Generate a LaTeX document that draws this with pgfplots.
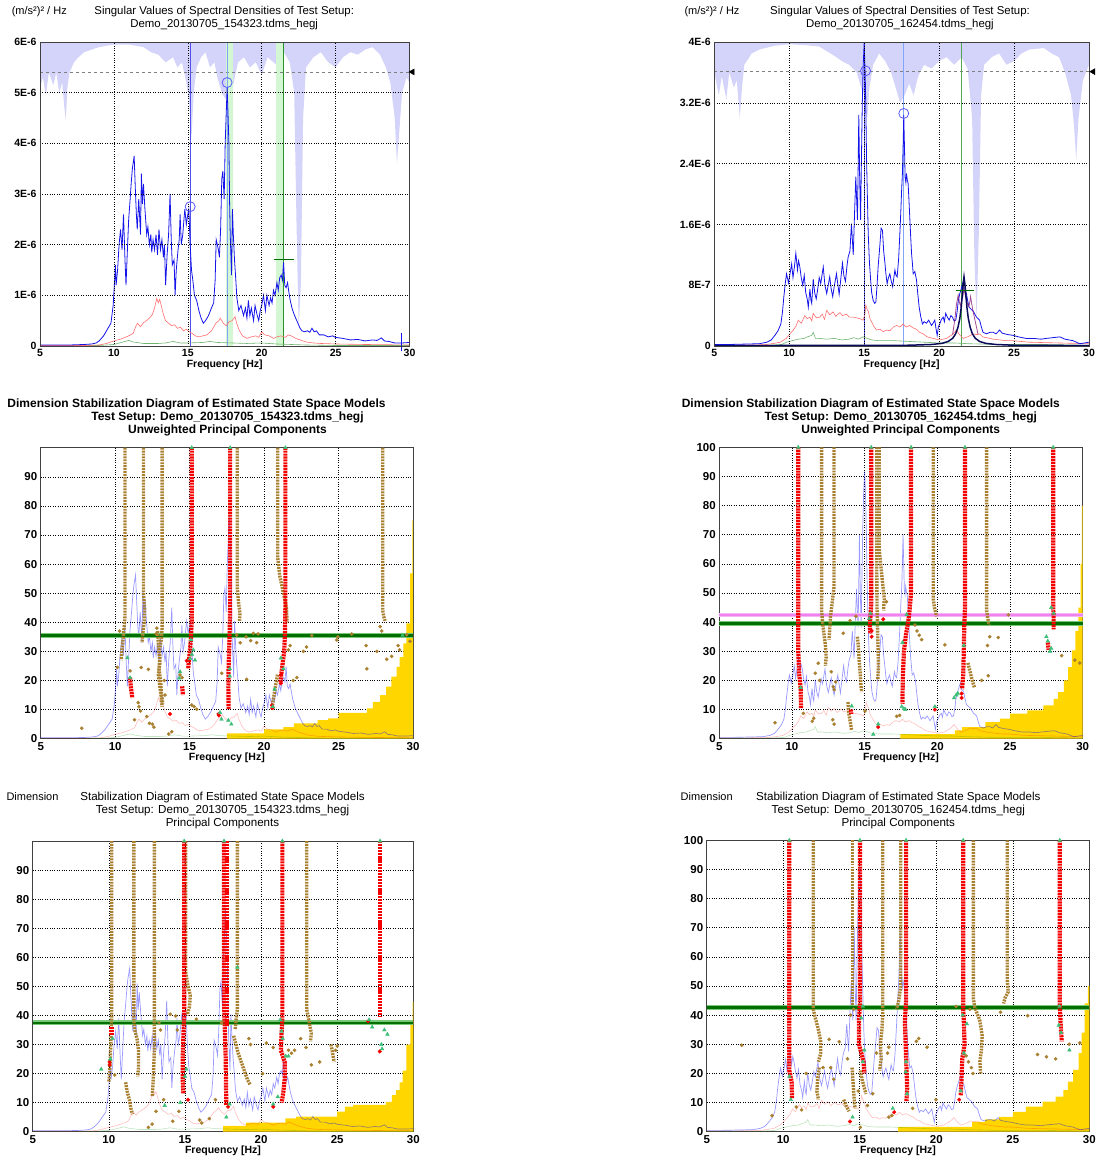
\documentclass[border=0pt]{standalone}
\usepackage{fontspec}
\setmainfont{Liberation Sans}
\usepackage{pgfplots}
\usepackage{pgfplotstable}
\pgfplotsset{compat=1.18}

\definecolor{lav}{RGB}{212,212,250}
\definecolor{specblue}{RGB}{20,20,235}
\definecolor{specred}{RGB}{255,110,110}
\definecolor{specgreen}{RGB}{110,180,110}
\definecolor{vblue}{RGB}{80,80,235}
\definecolor{vlblue}{RGB}{130,165,250}
\definecolor{cblue}{RGB}{90,90,250}
\definecolor{vgreen}{RGB}{40,145,40}
\definecolor{lgreen}{RGB}{210,247,210}
\definecolor{brn}{RGB}{168,128,48}
\definecolor{sred}{RGB}{245,0,0}
\definecolor{tri}{RGB}{60,190,120}
\definecolor{gold}{RGB}{255,214,0}
\definecolor{dgreen}{RGB}{0,110,0}
\definecolor{mgreen}{RGB}{120,200,120}
\definecolor{violet}{RGB}{238,130,238}
\definecolor{navy}{RGB}{10,10,90}
\definecolor{purp}{RGB}{140,30,120}

% ---------- spectra of the two test setups ----------
\pgfplotstableread{
x y
5 0.02
6 0.02
7 0.02
8 0.03
8.5 0.04
8.8 0.06
9.0 0.1
9.3 0.2
9.5 0.3
9.8 0.45
9.95 0.8
10.05 1.3
10.1 1.6
10.15 1.2
10.25 1.5
10.35 2.0
10.45 2.3
10.55 1.9
10.65 2.6
10.75 1.7
10.82 1.2
10.9 1.8
11.0 2.5
11.1 2.9
11.18 3.25
11.25 3.5
11.37 3.75
11.45 3.1
11.52 2.6
11.58 2.3
11.68 2.9
11.75 2.5
11.8 2.2
11.86 3.4
11.93 2.8
12.0 3.2
12.1 2.7
12.22 2.2
12.3 2.35
12.4 2.0
12.5 2.2
12.56 1.85
12.65 2.1
12.75 1.9
12.85 2.2
12.95 1.8
13.05 2.3
13.15 1.9
13.25 2.1
13.35 1.75
13.42 2.0
13.5 1.2
13.6 1.8
13.7 2.2
13.8 3.0
13.88 2.1
13.95 1.6
14.07 1.7
14.14 1.0
14.22 1.5
14.34 1.9
14.42 2.1
14.48 2.6
14.56 2.0
14.66 2.2
14.74 2.5
14.8 2.7
14.9 2.4
15.0 2.6
15.07 2.7
15.16 2.0
15.25 1.5
15.34 1.3
15.45 1.0
15.6 0.9
15.75 0.7
15.9 0.55
16.05 0.45
16.2 0.5
16.4 0.6
16.6 0.75
16.75 0.85
16.85 1.3
16.92 2.1
17.0 2.0
17.07 1.9
17.14 1.75
17.22 2.3
17.3 3.3
17.37 3.45
17.46 2.9
17.53 4.0
17.6 4.6
17.66 5.1
17.72 4.6
17.78 4.0
17.83 2.8
17.87 2.2
17.96 1.4
18.02 2.7
18.08 2.2
18.16 1.7
18.25 1.3
18.32 0.95
18.45 0.7
18.6 0.8
18.77 0.6
18.9 0.75
19.0 0.55
19.1 0.9
19.2 0.6
19.3 0.75
19.45 0.5
19.55 0.8
19.7 0.6
19.8 0.5
19.9 0.7
20.0 0.8
20.12 1.0
20.25 0.7
20.35 1.0
20.5 0.8
20.6 0.95
20.7 0.85
20.8 1.1
20.9 1.0
21.03 1.25
21.12 1.1
21.22 1.35
21.32 1.4
21.4 1.3
21.48 1.65
21.56 1.2
21.65 1.15
21.75 1.25
21.82 1.1
21.93 0.9
22.05 0.75
22.16 0.65
22.3 0.55
22.45 0.45
22.6 0.35
22.72 0.3
22.9 0.28
23.1 0.3
23.25 0.27
23.4 0.35
23.55 0.28
23.7 0.3
23.9 0.22
24.2 0.22
24.5 0.18
24.8 0.2
25.0 0.17
25.5 0.15
26.0 0.12
26.5 0.13
27.0 0.1
27.5 0.12
27.8 0.11
28.1 0.16
28.3 0.1
28.6 0.09
29.0 0.06
29.5 0.06
30.0 0.07
}\tlb

\pgfplotstableread{
x y
5 0.01
8 0.01
9 0.02
9.5 0.05
10 0.1
10.5 0.14
11 0.2
11.3 0.25
11.5 0.4
11.6 0.45
11.8 0.38
12.0 0.46
12.2 0.5
12.4 0.55
12.6 0.62
12.75 0.75
12.9 0.94
13.0 0.85
13.1 0.92
13.2 0.8
13.35 0.62
13.5 0.5
13.7 0.45
13.9 0.4
14.1 0.42
14.3 0.35
14.5 0.37
14.7 0.3
14.9 0.33
15.1 0.28
15.3 0.25
15.5 0.2
15.8 0.18
16.0 0.2
16.3 0.22
16.6 0.3
16.9 0.45
17.1 0.5
17.2 0.55
17.4 0.45
17.6 0.4
17.8 0.48
18.0 0.5
18.2 0.58
18.3 0.45
18.5 0.3
18.7 0.2
19.0 0.15
19.3 0.18
19.6 0.2
19.8 0.17
20.0 0.28
20.2 0.22
20.5 0.2
20.8 0.15
21.0 0.18
21.3 0.2
21.6 0.17
21.8 0.22
22.0 0.2
22.3 0.15
22.6 0.12
23.0 0.08
23.5 0.06
24.0 0.05
25.0 0.04
27.0 0.03
30.0 0.02
}\tlr

\pgfplotstableread{
x y
5 0.005
9 0.01
10 0.03
10.5 0.07
11 0.11
11.3 0.08
12 0.05
13 0.05
13.5 0.06
14 0.09
14.5 0.06
15 0.06
16 0.07
16.5 0.09
17 0.07
18 0.06
19 0.05
20 0.06
21 0.04
22 0.03
23 0.02
25 0.01
30 0.01
}\tlg

\pgfplotstableread{
x y
5 6
5 5.1
5.2 5.3
5.4 4.95
5.6 5.4
5.9 5.15
6.1 5.4
6.3 5.0
6.5 5.2
6.65 4.7
6.75 4.45
6.85 5.1
7.0 5.4
7.3 5.6
7.6 5.7
8.0 5.8
8.5 5.85
9.0 5.9
10 5.95
11 5.95
12 5.9
12.5 5.8
13 5.75
13.5 5.6
14 5.7
14.3 5.5
14.6 5.6
14.9 5.2
15.1 4.8
15.25 4.1
15.4 5.0
15.6 5.5
15.9 5.7
16.2 5.8
16.5 5.5
16.8 5.6
17.0 5.3
17.3 5.0
17.6 4.85
17.9 4.9
18.1 5.2
18.4 5.6
18.8 5.7
19.2 5.5
19.6 5.6
20.0 5.35
20.4 5.7
20.8 5.6
21.2 5.5
21.5 5.8
21.9 5.6
22.2 5.0
22.35 2.5
22.5 0.35
22.65 1.2
22.8 4.5
23.0 5.5
23.5 5.7
24.0 5.8
24.5 5.6
25.0 5.5
25.5 5.7
26.0 5.8
26.5 5.75
27.0 5.85
27.5 5.9
28.0 5.75
28.4 5.5
28.7 5.2
29.0 4.5
29.15 3.6
29.3 4.2
29.5 5.0
29.8 5.3
30.0 5.2
30 6
}\tll

\pgfplotstableread{
x y
5 0.2
6 0.2
7 0.25
8 0.3
8.5 0.5
8.8 0.8
9.04 1.4
9.25 2.0
9.44 2.9
9.55 4.5
9.64 6.5
9.75 8.5
9.82 9.5
9.95 8.3
10.05 9.5
10.16 10.8
10.25 9.0
10.35 10.5
10.44 12.2
10.55 10.0
10.62 11.2
10.7 10.5
10.8 9.0
10.9 8.0
11.0 9.3
11.1 7.0
11.2 6.2
11.27 5.1
11.38 7.5
11.45 6.0
11.5 5.6
11.6 8.8
11.7 7.0
11.8 6.2
11.9 7.5
12.0 9.0
12.1 8.2
12.2 9.5
12.27 10.4
12.38 8.0
12.5 6.9
12.6 8.0
12.7 9.1
12.8 7.5
12.9 6.5
13.0 7.8
13.15 9.5
13.25 8.0
13.33 6.8
13.45 9.0
13.55 10.9
13.65 9.2
13.75 8.5
13.85 10.5
13.93 11.7
14.05 12.5
14.15 16.1
14.27 12.0
14.35 17.0
14.44 22.3
14.55 16.6
14.6 24
14.64 30.4
14.7 22
14.76 16.6
14.82 25
14.87 31.5
14.93 36.8
15.0 39.9
15.07 35.5
15.12 30
15.16 24.5
15.22 19
15.27 14.8
15.35 11
15.43 8.7
15.5 7.0
15.6 6.0
15.7 5.6
15.78 5.8
15.86 8.0
15.93 10.4
16.04 13.1
16.13 15.5
16.22 15.2
16.3 12.5
16.38 11.0
16.45 9.5
16.53 8.2
16.62 9.0
16.71 9.5
16.8 8.6
16.9 7.8
16.98 9.0
17.05 10.0
17.12 9.3
17.2 9.1
17.3 11.5
17.38 14.8
17.44 17.5
17.49 20.1
17.55 22.7
17.6 26.5
17.64 30.4
17.69 26
17.73 22.2
17.78 21.5
17.82 22.7
17.88 21.8
17.93 21.4
17.98 19.5
18.04 17.0
18.1 14.5
18.16 12.2
18.22 10.8
18.27 9.5
18.38 9.8
18.49 8.7
18.58 6.8
18.67 5.1
18.78 3.8
18.89 2.9
19.0 3.2
19.16 3.0
19.3 3.4
19.49 2.7
19.6 3.0
19.71 3.4
19.8 2.2
19.87 1.4
19.95 2.5
20.04 2.9
20.15 3.5
20.27 3.8
20.35 3.2
20.44 4.3
20.55 3.8
20.67 3.4
20.78 4.0
20.89 3.8
21.0 3.3
21.11 3.4
21.2 4.5
21.27 5.8
21.38 6.9
21.47 7.5
21.56 8.2
21.62 8.5
21.67 7.3
21.75 7.2
21.82 6.9
21.9 6.0
22.0 5.1
22.15 4.8
22.27 4.6
22.38 4.2
22.49 3.8
22.6 3.6
22.7 3.4
22.82 2.5
22.93 1.8
23.05 1.7
23.16 1.6
23.4 1.8
23.6 1.8
23.8 1.6
24.04 2.1
24.2 1.7
24.38 1.6
24.6 1.5
24.93 1.4
25.3 1.2
25.8 1.0
26.3 1.0
26.8 0.9
27.16 1.0
27.6 1.1
28.05 1.2
28.4 0.9
28.93 0.7
29.38 0.3
29.7 0.4
30 0.5
}\trb

\pgfplotstableread{
x y
5 0.1
8 0.15
8.5 0.2
9 0.35
9.4 0.5
9.8 1.0
10.0 1.5
10.27 2.1
10.45 2.6
10.6 3.4
10.8 3.0
11.04 4.0
11.2 3.6
11.38 3.8
11.5 3.3
11.6 4.3
11.8 3.7
12.04 3.8
12.2 4.2
12.35 3.5
12.5 4.7
12.7 4.1
12.93 4.5
13.1 3.9
13.38 4.4
13.55 4.0
13.82 4.2
14.0 3.8
14.27 3.8
14.5 3.7
14.71 3.6
14.93 3.4
15.05 4.2
15.11 5.4
15.2 4.8
15.27 4.6
15.4 3.5
15.49 3.2
15.65 2.6
15.82 2.1
16.05 2.2
16.27 1.9
16.5 2.1
16.71 2.0
16.95 2.5
17.16 2.7
17.4 2.5
17.6 2.9
17.8 2.5
18.04 2.7
18.25 2.4
18.49 2.2
18.7 1.8
18.93 1.6
19.2 1.2
19.6 1.0
20.04 0.8
20.49 1.0
20.8 1.4
20.93 1.6
21.16 2.1
21.35 1.5
21.6 1.0
21.9 1.2
22.27 1.6
22.5 1.5
22.7 1.6
22.9 1.2
23.16 1.1
23.6 0.9
24.04 0.8
24.5 0.7
24.93 0.7
26 0.5
28 0.4
30 0.3
}\trr

\pgfplotstableread{
x y
5 0.05
8.5 0.1
9.5 0.2
9.8 0.5
10.2 0.7
10.6 0.9
11.0 1.0
11.2 1.2
11.5 1.4
11.6 1.8
11.75 1.0
12.0 1.0
12.5 0.9
13.0 1.0
13.5 0.8
14.0 0.9
14.3 1.1
14.6 0.9
14.93 1.2
15.2 1.0
15.5 0.8
16.0 0.7
17.0 0.7
18.0 0.6
19.0 0.5
20.0 0.4
21.0 0.4
22.0 0.3
24.0 0.2
27.0 0.2
30.0 0.1
}\trg

\pgfplotstableread{
x y
5 40
5 36
5.3 33
5.5 35.5
5.8 32.5
6.0 36
6.3 34
6.5 35
6.7 30
6.85 34
7.0 37
7.5 38.5
8 39
9 39.5
10 39.7
11 39.6
12 39.4
12.5 38.8
13 38.2
13.5 37.5
14 37
14.5 36
14.8 34
15.0 33
15.2 30
15.35 34
15.6 37
16 38.5
16.4 37.5
16.8 36
17.1 34
17.4 32
17.7 33
18 34.5
18.3 33
18.6 35.5
19 37
19.5 36.5
20 37.5
20.5 38
21 37
21.5 38
21.9 36.5
22.2 30
22.35 12
22.5 3.5
22.65 15
22.8 33
23 37
23.5 38
24 38.5
24.5 37
25 37.5
25.5 38.5
26 39
27 39.2
27.5 38.5
28 38
28.4 36
28.8 33
29.0 29
29.15 24.5
29.3 30
29.6 35
30 37
30 40
}\trl

\pgfplotstableread{
x y
5 0.05
18 0.1
19.5 0.2
20.2 0.35
20.6 0.6
20.9 1.0
21.1 1.6
21.25 2.4
21.38 3.6
21.47 5.0
21.55 6.8
21.61 8.3
21.66 9.1
21.71 8.3
21.78 6.8
21.86 5.0
21.95 3.6
22.08 2.4
22.22 1.6
22.42 1.0
22.7 0.6
23.1 0.35
23.8 0.2
25 0.1
30 0.05
}\trn

\pgfplotstableread{
x y
20.9 1.5
21.04 3.4
21.16 5.5
21.27 6.7
21.35 5.8
21.42 5.3
21.5 6.0
21.58 6.5
21.66 7.5
21.74 6.8
21.82 6.0
21.9 5.5
21.98 5.2
22.05 5.8
22.1 6.5
22.18 5.5
22.27 4.5
22.38 3.5
22.49 2.5
22.6 1.5
}\trp

\pgfplotsset{
  panel/.style={scale only axis, clip=false, xmin=5, xmax=30,
    xtick={5,10,15,20,25,30},
    grid=major, major grid style={black, dotted, line width=0.55pt},
    axis line style={black!75, line width=0.8pt}, tick style={draw=none},
    /pgf/number format/assume math mode=true,
    xlabel={Frequency [Hz]},
    xlabel style={font=\fontsize{10.5}{12}\selectfont\bfseries, yshift=4pt}},
  top/.style={panel, axis on top,
    ticklabel style={font=\fontsize{10.5}{12}\selectfont\bfseries}},
  stab/.style={panel, ymin=0, ymax=100,
    ticklabel style={font=\fontsize{11.5}{13}\selectfont\bfseries}},
  bcol/.style={draw=brn, line width=3.4pt, dash pattern=on 1.9pt off 1.01pt},
  rcol/.style={draw=sred, line width=4.2pt, dash pattern=on 2.1pt off 0.81pt},
  bdots/.style={only marks, mark=*, mark size=1.6pt, mark options={draw=brn, fill=brn}},
  rdots/.style={only marks, mark=*, mark size=1.8pt, mark options={draw=sred, fill=sred}},
  gtri/.style={only marks, mark=triangle*, mark size=2.1pt, mark options={draw=tri, fill=tri}},
  lblue/.style={blue, opacity=0.4, line width=0.7pt},
  lred/.style={red, opacity=0.25, line width=0.6pt},
  lgrn/.style={green!60!black, opacity=0.25, line width=0.6pt},
}

\newcommand{\ft}{\fontsize{11.4}{13}\selectfont}
\newcommand{\fs}{\fontsize{11.6}{13}\selectfont}
\newcommand{\fb}{\fontsize{12}{13}\selectfont\bfseries}

\begin{document}
\begin{tikzpicture}
\path[use as bounding box] (0,0) rectangle (1097pt,-1157pt);

% ---------------- top left ----------------
\begin{axis}[top, at={(40pt,-346pt)}, anchor=south west, width=369.5pt, height=304pt,
  ymin=0, ymax=6, ytick={0,1,2,3,4,5,6}, yticklabels={0,1E-6,2E-6,3E-6,4E-6,5E-6,6E-6}]
\addplot[fill=lav, draw=none] table {\tll} -- cycle;
\addplot[fill=lgreen, draw=none] coordinates {(17.6,0)(18.05,0)(18.05,6)(17.6,6)} -- cycle;
\addplot[fill=lgreen, draw=none] coordinates {(20.98,0)(21.48,0)(21.48,6)(20.98,6)} -- cycle;
\addplot[gray, dashed, line width=0.8pt] coordinates {(5,5.41)(30,5.41)};
\addplot[vblue, line width=0.8pt] coordinates {(15.16,0)(15.16,6)};
\addplot[vlblue, line width=0.8pt] coordinates {(17.66,0)(17.66,6)};
\addplot[vgreen, line width=0.8pt] coordinates {(21.5,0)(21.5,6)};
\addplot[specgreen, line width=0.6pt] table {\tlg};
\addplot[specred, line width=0.6pt] table {\tlr};
\addplot[specblue, line width=0.8pt] table {\tlb};
\addplot[specblue, line width=0.8pt] coordinates {(29.45,-0.1)(29.45,0.25)};
\addplot[only marks, mark=o, mark size=5pt, mark options={draw=cblue, line width=0.8pt}] coordinates {(15.16,2.75)(17.66,5.2)};
\addplot[dgreen, line width=1.5pt] coordinates {(20.8,1.71)(22.2,1.71)};
\addplot[only marks, mark=triangle*, mark size=3.5pt, mark options={rotate=90, fill=black, draw=black}] coordinates {(30.2,5.41)};
\end{axis}

% ---------------- top right ----------------
\begin{axis}[top, at={(714.3pt,-346pt)}, anchor=south west, width=374.7pt, height=304pt,
  ymin=0, ymax=40, ytick={0,8,16,24,32,40}, yticklabels={0,8E-7,1.6E-6,2.4E-6,3.2E-6,4E-6}]
\addplot[fill=lav, draw=none] table {\trl} -- cycle;
\addplot[gray, dashed, line width=0.8pt] coordinates {(5,36.1)(30,36.1)};
\addplot[vblue, line width=0.8pt] coordinates {(15.0,0)(15.0,40)};
\addplot[vlblue, line width=0.8pt] coordinates {(17.64,0)(17.64,40)};
\addplot[vgreen!80, line width=0.8pt] coordinates {(21.49,0)(21.49,40)};
\addplot[specgreen, line width=0.6pt] table {\trg};
\addplot[specred, line width=0.6pt] table {\trr};
\addplot[specblue, line width=0.8pt] table {\trb};
\addplot[purp, opacity=0.8, line width=0.8pt] table {\trp};
\addplot[navy, line width=1.5pt] table {\trn};
\addplot[only marks, mark=o, mark size=5pt, mark options={draw=cblue, line width=0.8pt}] coordinates {(15.09,36.2)(17.64,30.6)};
\addplot[dgreen, line width=1.5pt] coordinates {(21.11,7.3)(22.31,7.3)};
\addplot[only marks, mark=triangle*, mark size=3.5pt, mark options={rotate=90, fill=black, draw=black}] coordinates {(30.28,36.1)};
\end{axis}

% ---------------- middle left ----------------
\begin{axis}[stab, at={(40.7pt,-738.7pt)}, anchor=south west, width=372.3pt, height=291pt,
  ytick={0,10,...,90}]
\addplot[const plot, fill=gold, draw=none] coordinates {(17.5,1.8)(20.0,3.2)(21.3,4)(22.0,5.3)(23.6,6.4)(24.3,7)(25.0,8.9)(26.9,10.4)(27.3,12.7)(27.8,15)(28.2,17.9)(28.55,21.3)(28.9,24.7)(29.1,28)(29.35,32.8)(29.55,39.6)(29.8,56.8)(29.95,75)(30,75)} \closedcycle;
\addplot[lgrn] table[y expr=15*\thisrow{y}] {\tlg};
\addplot[lred] table[y expr=15*\thisrow{y}] {\tlr};
\addplot[lblue] table[y expr=15*\thisrow{y}] {\tlb};
\addplot[mgreen, line width=4.5pt] coordinates {(5,35.5)(30,35.5)};
\addplot[dgreen, line width=2.4pt] coordinates {(5,35.5)(30,35.5)};
\addplot[bcol] coordinates {(10.66,100)(10.66,42)(10.6,38)(10.52,34)(10.45,30)(10.4,27)};
\addplot[bcol] coordinates {(11.9,100)(11.9,50)(11.98,45)(11.95,40)(11.85,36)(11.8,33)};
\addplot[bcol] coordinates {(13.15,100)(13.15,38)(13.1,34)(12.95,30)(13.0,26)(12.9,22)(13.0,18)(13.1,14)(13.15,11)};
\addplot[bcol] coordinates {(12.85,37)(12.9,32)(13.0,28)(12.95,24)(13.05,20)(13.1,16)(13.2,12)};
\addplot[bcol] coordinates {(18.2,100)(18.2,52)(18.28,47)(18.38,43)(18.35,40.5)};
\addplot[bcol] coordinates {(20.92,100)(20.92,62)(21.05,56)(21.3,50)(21.5,45)(21.55,40)};
\addplot[bcol] coordinates {(27.97,100)(27.97,44)(28.03,42)(28.12,40.5)};
\addplot[bcol] coordinates {(20.9,22)(20.8,19)(20.7,16)(20.6,13)(20.55,10.5)};
\addplot[rcol] coordinates {(15.14,100)(15.14,40)(15.08,34)(14.98,28)(14.9,24)};
\addplot[rcol] coordinates {(17.72,100)(17.72,45)(17.68,35)(17.62,25)(17.6,18)(17.62,10)};
\addplot[rcol] coordinates {(21.43,100)(21.43,45)(21.4,36)(21.35,30)(21.25,26)(21.15,22)(21.1,19)};
\addplot[rcol] coordinates {(11.0,21)(11.05,18)(11.1,16)(11.15,14)};
\addplot[rcol] coordinates {(14.5,18)(14.55,15)};
\addplot[bdots] coordinates {(7.75,3.6)(10.15,24.5)(10.3,37)(11.0,23.3)(11.55,12.4)(11.6,11)(11.7,9.5)(11.75,24.5)(12.12,7.6)(12.23,23.8)(12.3,5.3)(12.5,5)(12.6,4)(13.6,1.6)(13.8,2.4)(14.36,21.9)(14.5,21)(15.14,11.6)(15.3,11)(15.48,10.1)(17.16,22.5)(18.16,35.6)(18.4,33)(18.79,35)(19.1,33.7)(19.28,36.2)(19.5,33)(19.6,36)(18.83,20.4)(20.62,10.7)(21.63,30.5)(21.75,32)(21.96,20)(22.2,21)(22.64,30)(22.85,31.5)(23.2,35.5)(24.88,33.9)(24.95,35)(25.89,36)(26.85,32)(26.9,24)(27.57,30)(27.79,38.5)(27.9,37)(28.24,27.3)(28.57,28.3)(29.0,32)(29.1,30.5)(29.58,35.7)(29.8,33.5)(12.8,38)(12.75,36)(13.3,20)(13.35,15)(11.3,6.5)};
\addplot[rdots] coordinates {(13.68,8.5)(14.8,26.8)(16.93,8.5)(16.97,8)(20.53,11.5)(20.55,10.5)(21.13,22)(21.13,19)};
\addplot[gtri] coordinates {(10.82,27.8)(11.0,21)(14.36,23)(14.3,20.8)(15.03,27.5)(15.15,29)(15.25,30.5)(15.36,27)(15.1,34)(17.04,9)(17.14,6.7)(17.6,6.3)(17.8,5)(17.7,24)(17.7,21.5)(20.58,11)(20.7,17)(21.13,27.7)(21.3,24)(29.3,35.5)(15.14,100)(17.72,100)(21.43,100)};
\end{axis}

% ---------------- middle right ----------------
\begin{axis}[stab, at={(719.3pt,-738.7pt)}, anchor=south west, width=363.4pt, height=291.4pt,
  ytick={0,10,...,100}]
\addplot[const plot, fill=gold, draw=none] coordinates {(17.45,1.6)(21.2,2.9)(21.7,4)(23.3,5.7)(24.3,6.9)(25.0,8.6)(26.2,9.7)(27.3,11.4)(28.0,13.7)(28.3,16)(28.7,20)(29.0,24.6)(29.25,30.3)(29.5,37)(29.7,45)(29.85,60)(29.95,80)(30,80)} \closedcycle;
\addplot[lgrn] table[y expr=2.3*\thisrow{y}] {\trg};
\addplot[lred] table[y expr=2.3*\thisrow{y}] {\trr};
\addplot[lblue] table[y expr=2.3*\thisrow{y}] {\trb};
\addplot[violet!60, line width=4.5pt] coordinates {(5,42.4)(30,42.4)};
\addplot[violet, line width=2.2pt] coordinates {(5,42.4)(30,42.4)};
\addplot[mgreen, line width=4.5pt] coordinates {(5,39.6)(30,39.6)};
\addplot[dgreen, line width=2.4pt] coordinates {(5,39.6)(30,39.6)};
\addplot[bcol] coordinates {(12.04,100)(12.04,44)(12.1,40)(12.2,36)(12.3,32)(12.35,28)(12.3,25)};
\addplot[bcol] coordinates {(12.89,100)(12.89,52)(12.75,46)(12.65,42)(12.6,38)(12.55,34)};
\addplot[bcol] coordinates {(15.83,100)(15.83,60)(15.85,45)(15.9,35)(15.95,25)(15.9,20)};
\addplot[bcol] coordinates {(16.0,100)(16.0,65)(16.2,55)(16.35,48)(16.3,44)};
\addplot[bcol] coordinates {(19.72,100)(19.72,48)(19.8,45)(19.95,42)};
\addplot[bcol] coordinates {(23.39,100)(23.39,44)(23.45,42)(23.55,39)};
\addplot[bcol] coordinates {(14.5,35)(14.56,32)(14.62,27)(14.7,22)(14.75,18)(14.8,16)};
\addplot[bcol] coordinates {(13.85,12.6)(13.9,9)(14.0,6)(14.1,3)};
\addplot[bcol] coordinates {(22.1,26)(22.25,23)(22.4,20)(22.55,17.6)};
\addplot[rcol] coordinates {(10.43,100)(10.43,30)(10.5,22)(10.6,17)(10.62,10.5)};
\addplot[rcol] coordinates {(15.45,100)(15.45,46)(15.4,42)(15.35,39)(15.4,36)};
\addplot[rcol] coordinates {(18.19,100)(18.19,50)(18.05,42)(17.85,36)(17.7,30)(17.62,20)(17.6,12)};
\addplot[rcol] coordinates {(21.9,100)(21.9,45)(21.85,38)(21.82,30)(21.78,22)(21.7,17)};
\addplot[rcol] coordinates {(27.97,100)(27.97,45)(28.0,42)(28.0,37.5)};
\addplot[rcol] coordinates {(27.6,33)(27.65,30.5)};
\addplot[rcol] coordinates {(14.05,10)(14.08,8.5)};
\addplot[bdots] coordinates {(8.83,5.5)(10.78,8.7)(11.81,25.9)(11.6,22.5)(11.9,20)(12.84,17.8)(12.9,16.8)(13.53,36.2)(15.02,9.5)(17.2,7.7)(17.4,8)(18.46,39)(18.6,37)(18.75,35.5)(18.92,34)(20.52,32.2)(23.05,20)(23.5,21.6)(23.45,32)(23.6,35)(24.19,34.7)(24.88,42.5)(28.55,28.5)(29.46,27)(29.8,26)(12.7,23)(13.0,19.5)(14.0,40.5)(14.4,42)(16.5,47)(11.4,6)(11.5,7)(12.9,5)(12.8,6.5)};
\addplot[rdots] coordinates {(15.48,37)(15.48,35)(15.93,4.0)(16.28,41)(19.83,10)(21.67,15.5)(21.67,14)};
\addplot[gtri] coordinates {(10.6,17.5)(14.11,11.2)(15.32,41.2)(15.4,43)(15.93,5)(15.59,1.5)(17.89,42.6)(17.6,33)(17.55,11)(17.7,10.3)(17.8,10)(19.83,11)(21.15,14)(21.3,15)(21.4,15.6)(21.82,32)(27.83,45)(28.0,43)(27.5,35)(27.6,33.5)(27.75,30)(27.83,31)(10.43,100)(15.45,100)(18.19,100)(21.9,100)(27.97,100)};
\end{axis}

% ---------------- bottom left ----------------
\begin{axis}[stab, at={(32.7pt,-1131.7pt)}, anchor=south west, width=380.6pt, height=290.7pt,
  ytick={0,10,...,90}]
\addplot[const plot, fill=gold, draw=none] coordinates {(17.5,2)(19.0,3.1)(21.6,4.6)(22.3,5.2)(25.0,6.9)(25.5,8.6)(26.05,9.2)(28.2,10.3)(28.6,12.6)(28.85,14.3)(29.1,17)(29.3,21)(29.55,30)(29.8,37)(29.95,44.7)(30,44.7)} \closedcycle;
\addplot[lgrn] table[y expr=15*\thisrow{y}] {\tlg};
\addplot[lred] table[y expr=15*\thisrow{y}] {\tlr};
\addplot[lblue] table[y expr=15*\thisrow{y}] {\tlb};
\addplot[mgreen, line width=4.5pt] coordinates {(5,37.5)(30,37.5)};
\addplot[dgreen, line width=2.4pt] coordinates {(5,37.5)(30,37.5)};
\addplot[bcol] coordinates {(10.19,100)(10.19,40)(10.15,33)(10.1,26)(10.05,20)(10.0,17)};
\addplot[bcol] coordinates {(11.65,100)(11.65,38)(11.7,35)(11.85,32)(11.95,28)(11.95,22)(11.9,19)};
\addplot[bcol] coordinates {(11.1,17)(11.2,14)(11.35,11)(11.45,8)(11.55,6)};
\addplot[bcol] coordinates {(12.99,100)(12.99,38)(13.0,30)(12.95,22)(12.9,16)(12.85,12)};
\addplot[bcol] coordinates {(15.05,100)(15.05,55)(15.2,50)(15.35,47)(15.3,43)(15.15,40)};
\addplot[bcol] coordinates {(18.44,100)(18.44,42)(18.35,38)(18.3,35)};
\addplot[bcol] coordinates {(18.2,33)(18.35,30)(18.5,27)(18.7,24)(18.9,21)(19.1,18)(19.3,16)};
\addplot[bcol] coordinates {(23.0,100)(23.0,42)(23.15,38)(23.3,34)(23.25,31)};
\addplot[bcol] coordinates {(24.6,30)(24.7,27)(24.8,24)};
\addplot[rcol] coordinates {(14.95,100)(14.95,40)(14.9,33)(14.85,25)(14.85,18)(14.9,13)};
\addplot[rcol] coordinates {(17.57,100)(17.57,45)(17.62,35)(17.68,25)(17.7,15)(17.72,9)};
\addplot[rcol] coordinates {(17.75,100)(17.75,36)};
\addplot[rcol] coordinates {(21.4,100)(21.4,39)(21.35,34)(21.3,28)(21.55,24)(21.55,18)(21.45,13)(21.35,10)};
\addplot[rcol] coordinates {(27.82,100)(27.82,39.5)};
\addplot[rcol] coordinates {(10.17,36)(10.17,33)};
\addplot[bdots] coordinates {(10.39,19.5)(12.84,2.6)(14.2,3.6)(14.04,40.4)(14.4,39.8)(14.5,35)(13.3,37.5)(13.4,35)(15.75,38.7)(15.97,4)(16.1,3)(17.4,37.5)(19.3,30)(19.2,32)(20.35,30.5)(20.1,20)(20.8,29)(21.8,28)(22.0,27)(22.6,32)(22.95,29)(22.2,28)(23.3,23)(23.85,24)(24.9,28)(25.0,29.5)(13.6,11)(14.6,7)(17.0,11)(16.6,4.5)(12.6,1.5)(13.1,7)};
\addplot[rdots] coordinates {(10.05,24)(10.05,23)(15.2,11)(17.83,8.6)(20.8,8.6)(27.8,27.6)(27.03,38)};
\addplot[gtri] coordinates {(9.5,21.5)(10.25,32)(10.1,25)(13.67,9)(14.7,10)(15.1,21.5)(15.0,19)(17.72,5)(17.93,9.5)(20.8,9.5)(21.1,12)(21.26,38.5)(21.35,34.5)(21.42,32)(21.62,26)(21.8,26)(27.1,38.5)(27.3,36)(28.1,35)(28.3,33.5)(27.9,30)(27.95,28.5)(14.95,100)(17.57,100)(21.4,100)(27.82,100)(18.44,56.5)};
\end{axis}

% ---------------- bottom right ----------------
\begin{axis}[stab, at={(706.7pt,-1131.7pt)}, anchor=south west, width=382.6pt, height=291.4pt,
  ytick={0,10,...,100}]
\addplot[const plot, fill=gold, draw=none] coordinates {(17.5,1.7)(22.35,3.4)(23.2,4.2)(24.1,5.1)(25.0,6.8)(25.85,8.6)(26.95,10.3)(27.8,12)(28.3,14.3)(28.6,17.2)(28.95,21.2)(29.3,27)(29.5,34)(29.7,44)(29.9,50)(30,50)} \closedcycle;
\addplot[lgrn] table[y expr=2.3*\thisrow{y}] {\trg};
\addplot[lred] table[y expr=2.3*\thisrow{y}] {\trr};
\addplot[lblue] table[y expr=2.3*\thisrow{y}] {\trb};
\addplot[mgreen, line width=4.5pt] coordinates {(5,42.6)(30,42.6)};
\addplot[dgreen, line width=2.4pt] coordinates {(5,42.6)(30,42.6)};
\addplot[bcol] coordinates {(11.96,100)(11.96,42)(12.1,39)(12.3,35)(12.45,31)(12.45,27)(12.3,24)};
\addplot[bcol] coordinates {(12.35,22)(12.25,18)(12.2,14)(12.3,11)};
\addplot[bcol] coordinates {(14.54,100)(14.54,43.5)};
\addplot[bcol] coordinates {(16.5,100)(16.5,40)(16.45,35)(16.35,30)(16.4,25)(16.3,21)};
\addplot[bcol] coordinates {(17.68,100)(17.68,50)(17.55,45)(17.4,42)};
\addplot[bcol] coordinates {(22.42,100)(22.42,46)(22.5,43)(22.85,38)(23.0,33)(22.95,28)(22.85,24)(22.9,20)};
\addplot[bcol] coordinates {(24.64,100)(24.64,52)(24.7,48)(24.5,46)(24.4,44)};
\addplot[bcol] coordinates {(14.5,22)(14.55,18)(14.6,14)(14.65,10)(14.7,8)};
\addplot[bcol] coordinates {(13.95,11)(14.1,9)(14.3,7)};
\addplot[bcol] coordinates {(15.05,21)(15.15,18)(15.3,15)(15.4,13)};
\addplot[rcol] coordinates {(10.4,100)(10.4,21)(10.55,17)(10.58,11.5)};
\addplot[rcol] coordinates {(15.01,100)(15.01,44)(14.95,38)(14.95,30)(15.1,27)(15.25,24)(15.3,20)};
\addplot[rcol] coordinates {(18.03,100)(18.03,45)(17.95,38)(18.0,30)(18.05,22)(18.1,15)(18.05,10.5)};
\addplot[rcol] coordinates {(21.76,100)(21.76,42)(21.8,38)(21.85,30)(21.7,25)(21.65,18)(21.6,12.5)};
\addplot[rcol] coordinates {(28.07,100)(28.07,44)(28.1,40)(28.15,35)(28.2,31)};
\addplot[bdots] coordinates {(7.29,29.7)(9.27,5.5)(10.85,8.5)(11.2,7.5)(13.0,31.7)(13.66,30.9)(14.2,25)(13.1,22)(15.04,1.5)(15.85,13)(16.1,27)(16.82,27)(16.9,29)(18.45,8)(18.7,31)(18.85,32)(19.98,11)(21.95,26)(22.1,24)(22.3,22)(22.4,20)(25.97,39.8)(26.62,26.5)(27.2,25.7)(27.8,25)(28.69,30)(29.38,30.5)(13.3,18)(12.6,22)(14.9,14)(15.5,9)(16.9,5)(17.1,5.5)(11.5,20)(14.4,40)(14.6,42)(19.4,29)(24.2,41)(22.2,42)(21.3,43)};
\addplot[rdots] coordinates {(14.36,3.5)(17.25,6.7)(21.5,11)};
\addplot[gtri] coordinates {(10.4,19)(10.5,11)(14.53,5)(15.2,43)(15.1,39)(15.2,24)(15.3,28)(17.16,8)(18.02,24)(18.1,13)(18.0,20.5)(21.72,40)(21.8,27)(22.0,37)(21.6,14)(28.05,43)(28.0,36.5)(28.15,34)(28.7,28)(10.4,100)(15.01,100)(18.03,100)(21.76,100)(28.07,100)};
\end{axis}

% ---------------- titles ----------------
\node[font=\fontsize{11}{12}\selectfont] at (39.3pt,-11.3pt) {(m/s²)² / Hz};
\node[align=center, font=\ft] at (224.2pt,-17.8pt) {Singular Values of Spectral Densities of Test Setup:\\Demo\_20130705\_154323.tdms\_hegj};
\node[font=\fontsize{11}{12}\selectfont] at (712pt,-11.3pt) {(m/s²)² / Hz};
\node[align=center, font=\ft] at (900pt,-17.8pt) {Singular Values of Spectral Densities of Test Setup:\\Demo\_20130705\_162454.tdms\_hegj};

\node[font=\fb] at (196.5pt,-404.3pt) {Dimension Stabilization Diagram of Estimated State Space Models};
\node[font=\fb] at (227.5pt,-417.3pt) {Test Setup: Demo\_20130705\_154323.tdms\_hegj};
\node[font=\fb] at (227.5pt,-430.3pt) {Unweighted Principal Components};
\node[font=\fb] at (870.8pt,-404.3pt) {Dimension Stabilization Diagram of Estimated State Space Models};
\node[font=\fb] at (900.8pt,-417.3pt) {Test Setup: Demo\_20130705\_162454.tdms\_hegj};
\node[font=\fb] at (900.8pt,-430.3pt) {Unweighted Principal Components};

\node[font=\fontsize{11}{12}\selectfont] at (32.5pt,-797pt) {Dimension};
\node[align=center, font=\fs] at (222.5pt,-810pt) {Stabilization Diagram of Estimated State Space Models\\Test Setup: Demo\_20130705\_154323.tdms\_hegj\\Principal Components};
\node[font=\fontsize{11}{12}\selectfont] at (706.7pt,-797pt) {Dimension};
\node[align=center, font=\fs] at (898.3pt,-810pt) {Stabilization Diagram of Estimated State Space Models\\Test Setup: Demo\_20130705\_162454.tdms\_hegj\\Principal Components};
\end{tikzpicture}
\end{document}
